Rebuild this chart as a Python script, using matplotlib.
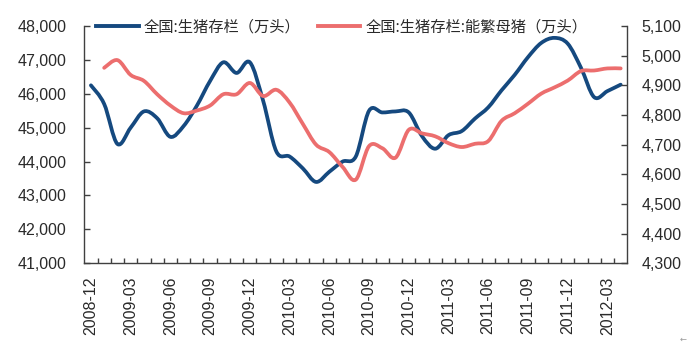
import numpy as np
import pandas as pd
import matplotlib
matplotlib.use('Agg')
import matplotlib.pyplot as plt
from matplotlib.path import Path
from matplotlib.patches import PathPatch
from matplotlib.lines import Line2D
from matplotlib.ticker import FuncFormatter, FixedLocator

# ---------------- data ----------------
months = [p.strftime('%Y-%m') for p in pd.period_range('2008-12', '2012-04', freq='M')]
tick_labels = ['2008-12', '2009-03', '2009-06', '2009-09', '2009-12', '2010-03', '2010-06',
               '2010-09', '2010-12', '2011-03', '2011-06', '2011-09', '2011-12', '2012-03']

# 全国:生猪存栏（万头） – left axis
hog_stock = [46250, 45700, 44520, 45000, 45480, 45280, 44730, 45050, 45650, 46380,
             46930, 46615, 46930, 45800, 44300, 44150, 43800, 43400, 43700, 44000,
             44150, 45500, 45450, 45480, 45450, 44750, 44380, 44780, 44900, 45270,
             45600, 46100, 46560, 47080, 47500, 47650, 47480, 46770, 45900, 46080,
             46270]

# 全国:生猪存栏:能繁母猪（万头） – right axis (starts 2009-01)
sow_stock = [None, 4959, 4985, 4935, 4915, 4870, 4832, 4806, 4815, 4832,
             4870, 4870, 4908, 4864, 4885, 4842, 4770, 4700, 4675, 4625,
             4582, 4695, 4688, 4656, 4750, 4738, 4728, 4705, 4692, 4703,
             4712, 4780, 4806, 4838, 4872, 4893, 4916, 4948, 4950, 4957,
             4957]

series_names = ['全国:生猪存栏（万头）', '全国:生猪存栏:能繁母猪（万头）']
blue = '#15497F'
red = '#EC6E6E'

# ---------------- helpers ----------------
def smooth_path(xs, ys, t=1/6):
    xs = np.asarray(xs, float); ys = np.asarray(ys, float)
    n = len(xs)
    verts = [(xs[0], ys[0])]
    codes = [Path.MOVETO]
    for i in range(n - 1):
        a = i - 1 if i > 0 else i
        d = i + 2 if i + 2 < n else i + 1
        c1 = (xs[i] + (xs[i + 1] - xs[a]) * t, ys[i] + (ys[i + 1] - ys[a]) * t)
        c2 = (xs[i + 1] - (xs[d] - xs[i]) * t, ys[i + 1] - (ys[d] - ys[i]) * t)
        verts += [c1, c2, (xs[i + 1], ys[i + 1])]
        codes += [Path.CURVE4] * 3
    return Path(verts, codes)

# ---------------- figure ----------------
plt.rcParams['font.family'] = ['Liberation Sans', 'Noto Sans CJK SC', 'DejaVu Sans']
fig = plt.figure(figsize=(6.94, 3.56), dpi=100)
fig.patch.set_facecolor('white')
L, R, T, B = 84.3, 627.3, 26.0, 263.3
ax = fig.add_axes([L / 694, 1 - B / 356, (R - L) / 694, (B - T) / 356])
ax2 = ax.twinx()

x = np.arange(len(months))
ax.add_patch(PathPatch(smooth_path(x, hog_stock), fill=False, edgecolor=blue,
                       lw=2.7, capstyle='round', joinstyle='round'))
sx = [i for i, v in enumerate(sow_stock) if v is not None]
sy = [v for v in sow_stock if v is not None]
ax2.add_patch(PathPatch(smooth_path(sx, sy), fill=False, edgecolor=red,
                        lw=2.7, capstyle='round', joinstyle='round'))

ax.set_xlim(-0.5, len(months) - 0.5)
ax.set_ylim(41000, 48000)
ax2.set_ylim(4300, 5100)
ax.set_yticks(np.arange(41000, 48001, 1000))
ax2.set_yticks(np.arange(4300, 5101, 100))
fmt = FuncFormatter(lambda v, p: f'{int(v):,}')
ax.yaxis.set_major_formatter(fmt)
ax2.yaxis.set_major_formatter(fmt)

pos = [months.index(m) for m in tick_labels]
ax.xaxis.set_major_locator(FixedLocator(pos))
ax.set_xticklabels(tick_labels, rotation=90)
ax.xaxis.set_minor_locator(FixedLocator(np.arange(0.5, len(months) - 1, 1)))

spine_c = '#404040'
txt_c = '#2a2a2a'
for a in (ax, ax2):
    a.spines['top'].set_visible(False)
    for s in ('left', 'right', 'bottom'):
        a.spines[s].set_color(spine_c)
        a.spines[s].set_linewidth(1.0)
ax.spines['right'].set_visible(False)
ax2.spines['left'].set_visible(False)
ax2.spines['bottom'].set_visible(False)

ax.tick_params(axis='y', direction='in', length=4, width=1, color=spine_c,
               labelsize=11.5, labelcolor=txt_c, pad=13)
ax2.tick_params(axis='y', direction='in', length=4, width=1, color=spine_c,
                labelsize=11.5, labelcolor=txt_c, pad=10)
ax.tick_params(axis='x', which='major', length=0, labelsize=11.5, labelcolor=txt_c, pad=9.5)
ax.tick_params(axis='x', which='minor', direction='in', length=3.5, width=1, color=spine_c)

handles = [Line2D([], [], color=blue, lw=2.8), Line2D([], [], color=red, lw=2.8)]
fig.legend(handles, series_names, ncol=2, frameon=False,
           loc='center left', bbox_to_anchor=(96 / 694, 1 - 27 / 356),
           prop={'family': ['Noto Sans CJK SC', 'Liberation Sans'], 'size': 11},
           borderpad=0, borderaxespad=0, handlelength=2.8, handletextpad=0.35,
           columnspacing=1.1, labelcolor=txt_c)

fig.text(683 / 694, 1 - 339 / 356, '←', fontsize=6, color='#999999',
         ha='center', va='center', family=['DejaVu Sans'])

fig.savefig('out.png', dpi=100, facecolor='white')
